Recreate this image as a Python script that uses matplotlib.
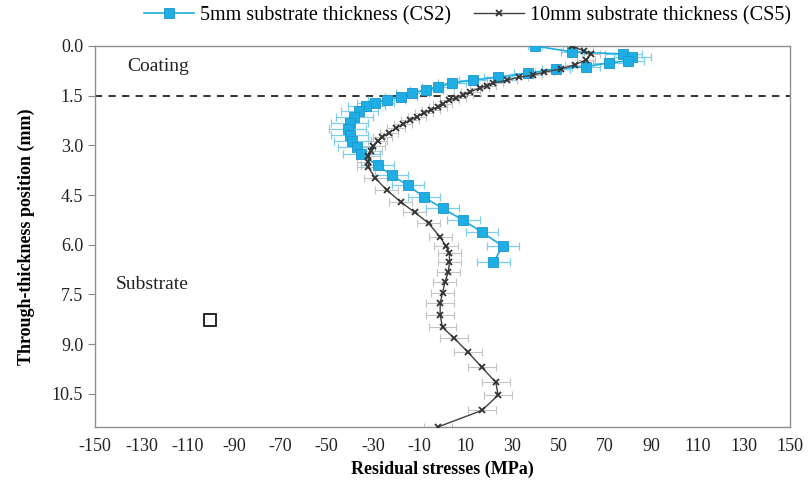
import matplotlib
matplotlib.use("Agg")
import matplotlib.pyplot as plt

# CS2 (5 mm substrate): residual stress (MPa) vs depth (mm)
cs2_depth = [0.00, 0.18, 0.24, 0.33, 0.45, 0.51, 0.62, 0.69, 0.82, 0.94, 1.03, 1.12,
             1.24, 1.33, 1.42, 1.54, 1.63, 1.72, 1.82, 1.96, 2.14, 2.33, 2.51, 2.69,
             2.87, 3.05, 3.26, 3.60, 3.90, 4.20, 4.56, 4.90, 5.26, 5.62, 6.04, 6.53]
cs2_stress = [40, 56, 78, 82, 80, 72, 62, 49, 37, 24, 13, 4,
              -2, -7, -13, -18, -24, -29, -33, -36, -38, -40, -41, -40,
              -39, -37, -35, -28, -22, -15, -8, 0, 9, 17, 26, 22]
cs2_err = [3, 5, 8, 8, 7, 7, 6, 6, 6, 6, 6, 6,
           7, 7, 7, 7, 8, 8, 8, 8, 8, 8, 8, 8,
           8, 8, 8, 7, 7, 7, 7, 7, 7, 7, 7, 7]

# CS5 (10 mm substrate)
cs5_depth = [0.00, 0.15, 0.24, 0.42, 0.57, 0.69, 0.79, 0.88, 0.94, 1.03, 1.12, 1.20,
             1.27, 1.38, 1.48, 1.56, 1.63, 1.74, 1.84, 1.93, 2.02, 2.13, 2.24, 2.36,
             2.48, 2.62, 2.75, 2.88, 3.02, 3.17, 3.32, 3.50, 3.66, 3.99, 4.35, 4.71,
             5.02, 5.35, 5.77, 6.04, 6.25, 6.53, 6.83, 7.13, 7.46, 7.76, 8.13, 8.49,
             8.82, 9.24, 9.70, 10.15, 10.54, 11.00, 11.50]
cs5_stress = [56, 61, 64, 62, 57, 51, 44, 39, 33, 28, 22, 19,
              16, 12, 9, 6, 3, 0, -2, -5, -8, -11, -14, -17,
              -20, -23, -26, -28, -30, -31, -32, -32, -32, -29, -24, -18,
              -12, -6, -1, 1.5, 3, 3, 2.5, 1, 0, -1, -1, 0,
              5, 11, 17, 23, 24, 17, -2]
cs5_err = [4, 4, 4, 4, 4, 4, 4, 4, 4, 4, 4, 4,
           4, 4, 4, 4, 4, 4, 4, 4, 4, 4, 4, 4,
           4, 4, 4, 4, 5, 5, 5, 5, 5, 5, 5, 5,
           5, 5, 5, 5, 5, 5, 5, 5, 5, 6, 6, 6,
           6, 6, 6, 6, 6, 6, 6]

xticks = list(range(-150, 151, 20))
yticks = [0.0, 1.5, 3.0, 4.5, 6.0, 7.5, 9.0, 10.5]

plt.rcParams['font.family'] = ['Liberation Serif', 'DejaVu Serif']
plt.rcParams['font.serif'] = ['Liberation Serif', 'DejaVu Serif']

fig = plt.figure(figsize=(8.08, 4.92), dpi=100)
ax = fig.add_axes([95/808, 1-427/492, (790-95)/808, (427-46)/492])

blue = '#1EAEE4'
ax.errorbar(cs5_stress, cs5_depth, xerr=cs5_err, fmt='none', ecolor='#c4c4c4',
            elinewidth=0.8, capsize=3, capthick=0.8, zorder=2)
ax.errorbar(cs2_stress, cs2_depth, xerr=cs2_err, fmt='none', ecolor='#7ccdee',
            elinewidth=0.9, capsize=3, capthick=0.9, zorder=2)
ax.plot(cs5_stress, cs5_depth, color='#404040', lw=1.0, marker='x', ms=5,
        mew=1.3, mec='#333333', zorder=4, label='10mm substrate thickness (CS5)')
ax.plot(cs2_stress, cs2_depth, color=blue, lw=1.2, marker='s', ms=7,
        mfc=blue, mec='#1b95cc', mew=0.6, zorder=3, label='5mm substrate thickness (CS2)')

ax.axhline(1.5, color='#222222', lw=1.3, ls=(0, (4, 3.5)), zorder=1)
ax.plot([-100.4], [8.28], marker='s', ms=8, mfc='white', mec='black', mew=1.2, ls='none')

ax.text(-136, 0.62, 'Coating', fontsize=14, color='#222222', va='center', ha='left')
ax.text(-141, 7.2, 'Substrate', fontsize=14, color='#222222', va='center', ha='left')

ax.set_xlim(-150, 150)
ax.set_ylim(11.5, 0)
ax.set_xticks(xticks)
ax.set_xticklabels([str(v) for v in xticks])
ax.set_yticks(yticks)
ax.set_yticklabels([f'{v:.1f}' for v in yticks])
ax.tick_params(axis='x', length=0, labelsize=13, pad=8, colors='#222222')
ax.tick_params(axis='y', length=5, direction='out', labelsize=13, colors='#222222', color='#888888')
for s in ax.spines.values():
    s.set_color('#909090')
    s.set_linewidth(1.0)

ax.set_xlabel('Residual stresses (MPa)', fontsize=13, fontweight='bold', labelpad=4)
ax.set_ylabel('Through-thickness position (mm)', fontsize=13, fontweight='bold', labelpad=12)

h, l = ax.get_legend_handles_labels()
ax.legend(h[::-1], l[::-1], loc='center', bbox_to_anchor=(0.536, 1.08), ncol=2,
          frameon=False, prop={'family': 'Liberation Serif', 'size': 14.5},
          handlelength=2.5, columnspacing=1.1, handletextpad=0.3, borderaxespad=0)

fig.savefig('out.png', dpi=100)
